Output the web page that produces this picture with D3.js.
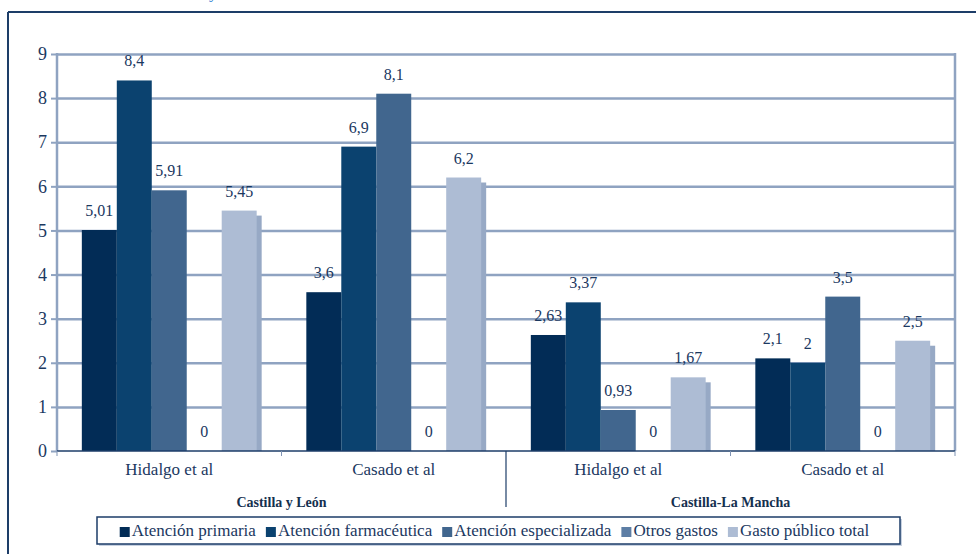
<!DOCTYPE html>
<html>
<head>
<meta charset="utf-8">
<script src="https://cdn.jsdelivr.net/npm/d3@7"></script>
<style>
  html, body { margin: 0; padding: 0; background: #fff; }
  svg { display: block; }
  text { font-family: "Liberation Serif", "DejaVu Serif", serif; }
</style>
</head>
<body>
<svg id="chart" width="976" height="554"></svg>
<script>
// Gasto sanitario: estudios por comunidad autónoma
const regions = ["Castilla y León", "Castilla-La Mancha"];
const studies = ["Hidalgo et al", "Casado et al"];
const groups = [
  { region: "Castilla y León", study: "Hidalgo et al" },
  { region: "Castilla y León", study: "Casado et al" },
  { region: "Castilla-La Mancha", study: "Hidalgo et al" },
  { region: "Castilla-La Mancha", study: "Casado et al" }
];
const seriesNames = ["Atención primaria", "Atención farmacéutica", "Atención especializada", "Otros gastos", "Gasto público total"];
const atencionPrimaria = [5.01, 3.6, 2.63, 2.1];
const atencionFarmaceutica = [8.4, 6.9, 3.37, 2];
const atencionEspecializada = [5.91, 8.1, 0.93, 3.5];
const otrosGastos = [0, 0, 0, 0];
const gastoPublicoTotal = [5.45, 6.2, 1.67, 2.5];
const seriesValues = [atencionPrimaria, atencionFarmaceutica, atencionEspecializada, otrosGastos, gastoPublicoTotal];
const yTicks = [0, 1, 2, 3, 4, 5, 6, 7, 8, 9];

const colors = ["#022c56", "#0b426f", "#41668e", "#5d7ea5", "#adbcd4"];
const shadowColor = "#97a9c5";
const textColor = "#1b385f";
const gridColor = "#8fa3c1";
const frameColor = "#1d3d68";

const svg = d3.select("#chart");

// outer frame (top and left rules)
svg.append("line").attr("x1", 8).attr("x2", 976).attr("y1", 12).attr("y2", 12)
  .attr("stroke", frameColor).attr("stroke-width", 2);
svg.append("line").attr("x1", 8).attr("x2", 8).attr("y1", 12).attr("y2", 554)
  .attr("stroke", frameColor).attr("stroke-width", 2);
// fragment of the caption above the frame
svg.append("text").attr("x", 209).attr("y", -2).attr("font-size", 17)
  .attr("fill", "#2c7fd2").text("y");

const plot = { left: 57, right: 955, top: 54, bottom: 451 };

const x0 = d3.scaleBand().domain(d3.range(groups.length))
  .range([plot.left, plot.right]).paddingInner(0).paddingOuter(0);
const x1 = d3.scaleBand().domain(d3.range(seriesNames.length))
  .range([0, x0.bandwidth()]).paddingInner(0).paddingOuter(0.71);
const y = d3.scaleLinear().domain([0, 9]).range([plot.bottom, plot.top]);

// horizontal gridlines
const grid = svg.append("g").attr("transform", `translate(${plot.left},0)`)
  .call(d3.axisLeft(y).tickValues(yTicks.slice(1)).tickSize(-(plot.right - plot.left)).tickFormat(""));
grid.select(".domain").remove();
grid.selectAll("line").attr("stroke", gridColor).attr("stroke-width", 2.5);

// right border of the plot
svg.append("line").attr("x1", plot.right).attr("x2", plot.right)
  .attr("y1", plot.top - 1).attr("y2", plot.bottom)
  .attr("stroke", gridColor).attr("stroke-width", 2.5);

// bars
const gBars = svg.append("g");
groups.forEach((g, gi) => {
  seriesValues.forEach((vals, si) => {
    const v = vals[gi];
    if (v <= 0) return;
    const bx = x0(gi) + x1(si);
    const bw = x1.bandwidth();
    if (si === 4) {
      // depth strip on the right of the total bar
      gBars.append("rect").attr("x", bx + bw - 1).attr("y", y(v) + 5)
        .attr("width", 6).attr("height", plot.bottom - y(v) - 5)
        .attr("fill", shadowColor);
    }
    gBars.append("rect").attr("x", bx).attr("y", y(v))
      .attr("width", bw).attr("height", plot.bottom - y(v))
      .attr("fill", colors[si]);
  });
});

// value labels
const fmt = v => String(v).replace(".", ",");
groups.forEach((g, gi) => {
  seriesValues.forEach((vals, si) => {
    const v = vals[gi];
    svg.append("text")
      .attr("x", x0(gi) + x1(si) + x1.bandwidth() / 2)
      .attr("y", y(v) - 14)
      .attr("text-anchor", "middle").attr("font-size", 16)
      .attr("fill", textColor).text(fmt(v));
  });
});

// y axis
const yAxis = svg.append("g").attr("transform", `translate(${plot.left},0)`)
  .call(d3.axisLeft(y).tickValues(yTicks).tickSize(6).tickPadding(4).tickFormat(d3.format("d")));
yAxis.select(".domain").attr("stroke", gridColor).attr("stroke-width", 2.5)
  .attr("d", `M0,${plot.top - 1}V${plot.bottom}`);
yAxis.selectAll(".tick line").attr("stroke", gridColor).attr("stroke-width", 2);
yAxis.selectAll(".tick text").attr("font-size", 18).attr("fill", textColor)
  .attr("font-family", "Liberation Serif, serif");

// x axis baseline and group ticks
svg.append("line").attr("x1", plot.left).attr("x2", plot.right)
  .attr("y1", plot.bottom).attr("y2", plot.bottom)
  .attr("stroke", frameColor).attr("stroke-width", 1.5);
const boundaries = d3.range(groups.length + 1).map(i => i < groups.length ? x0(i) : plot.right);
boundaries.forEach((bx, i) => {
  const isSplit = i === 2;
  svg.append("line").attr("x1", bx).attr("x2", bx)
    .attr("y1", plot.bottom).attr("y2", isSplit ? 507 : plot.bottom + 5)
    .attr("stroke", isSplit ? frameColor : "#7f93b3").attr("stroke-width", isSplit ? 1.2 : 1);
});

// study labels
groups.forEach((g, gi) => {
  svg.append("text").attr("x", x0(gi) + x0.bandwidth() / 2).attr("y", 475)
    .attr("text-anchor", "middle").attr("font-size", 17).attr("fill", textColor)
    .text(g.study);
});

// region labels
regions.forEach((r, ri) => {
  const members = d3.range(groups.length).filter(i => groups[i].region === r);
  const cx = (x0(members[0]) + x0(members[members.length - 1]) + x0.bandwidth()) / 2;
  svg.append("text").attr("x", cx).attr("y", 507)
    .attr("text-anchor", "middle").attr("font-size", 14).attr("font-weight", "bold")
    .attr("fill", "#15304f").text(r);
});

// legend
const lg = { left: 97, top: 517, right: 900, bottom: 544 };
svg.append("rect").attr("x", lg.left + 2).attr("y", lg.top + 2)
  .attr("width", lg.right - lg.left).attr("height", lg.bottom - lg.top)
  .attr("fill", "#c7d1e0");
svg.append("rect").attr("x", lg.left).attr("y", lg.top)
  .attr("width", lg.right - lg.left).attr("height", lg.bottom - lg.top)
  .attr("fill", "#fff").attr("stroke", frameColor).attr("stroke-width", 1.5);

const legendG = svg.append("g");
let cursor = 0;
const swatch = 10, swGap = 2, itemGap = 10;
seriesNames.forEach((name, i) => {
  const item = legendG.append("g").attr("transform", `translate(${cursor},0)`);
  item.append("rect").attr("x", 0).attr("y", 527).attr("width", swatch).attr("height", swatch)
    .attr("fill", colors[i]);
  const t = item.append("text").attr("x", swatch + swGap).attr("y", 536)
    .attr("font-size", 17).attr("fill", textColor).text(name);
  cursor += swatch + swGap + t.node().getComputedTextLength() + itemGap;
});
const legendWidth = cursor - itemGap;
legendG.attr("transform", `translate(${(lg.left + lg.right) / 2 - legendWidth / 2 - 4},0)`);
</script>
</body>
</html>
